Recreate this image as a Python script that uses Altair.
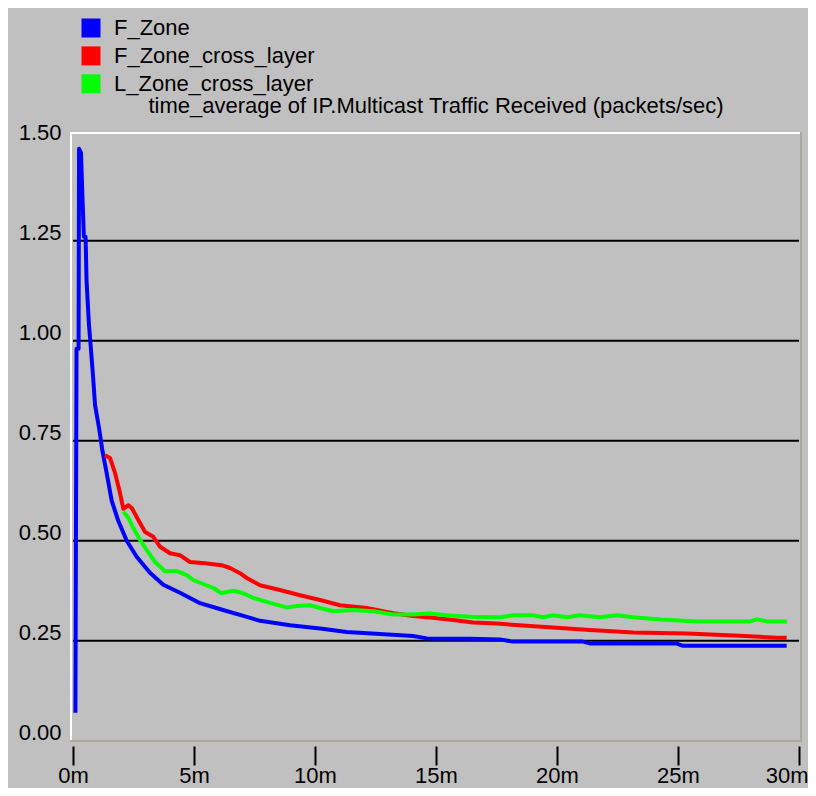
import altair as alt
import pandas as pd

FONT = "Liberation Sans, Arial, sans-serif"
FS = 22

series_names = ["F_Zone", "F_Zone_cross_layer", "L_Zone_cross_layer"]
series_colors = ["#0000ff", "#ff0000", "#00ff00"]
title_text = "time_average of IP.Multicast Traffic Received (packets/sec)"

# time in minutes, value in packets/sec
f_zone_t = [0.10, 0.145, 0.23, 0.25, 0.33, 0.39, 0.45, 0.52, 0.56, 0.66, 0.74, 0.83, 0.91,
            1.09, 1.21, 1.39, 1.60, 1.87, 2.22, 2.63, 3.18, 3.73, 4.42, 5.25, 6.20, 7.18,
            7.73, 8.97, 10.21, 11.31, 12.69, 14.05, 14.62, 16.40, 17.64, 18.18, 21.07,
            21.36, 24.92, 25.21, 29.49]
f_zone_v = [0.07, 0.98, 0.98, 1.48, 1.47, 1.36, 1.26, 1.26, 1.15, 1.04, 0.98, 0.91, 0.84,
            0.777, 0.727, 0.67, 0.60, 0.55, 0.50, 0.46, 0.42, 0.39, 0.37, 0.344, 0.327, 0.31,
            0.30, 0.289, 0.281, 0.272, 0.267, 0.262, 0.256, 0.255, 0.2535, 0.248, 0.248,
            0.2435, 0.2435, 0.2375, 0.2375]

f_cross_t = [1.32, 1.53, 1.74, 1.94, 2.08, 2.29, 2.43, 2.70, 2.98, 3.32, 3.60, 4.01, 4.42,
             4.83, 5.45, 6.14, 6.49, 6.90, 7.18, 7.73, 8.55, 9.38, 10.21, 11.03, 12.14,
             13.24, 14.05, 14.75, 15.70, 16.53, 17.51, 18.75, 19.99, 21.36, 23.15, 25.36,
             27.56, 29.08, 29.49]
f_cross_v = [0.714, 0.707, 0.669, 0.62, 0.58, 0.589, 0.582, 0.552, 0.522, 0.51, 0.485, 0.469,
             0.464, 0.447, 0.444, 0.439, 0.432, 0.419, 0.407, 0.389, 0.377, 0.364, 0.352,
             0.339, 0.332, 0.319, 0.312, 0.308, 0.302, 0.296, 0.293, 0.2875, 0.2825, 0.277,
             0.271, 0.2685, 0.2625, 0.2575, 0.2575]

l_cross_t = [2.08, 2.29, 2.49, 2.77, 3.05, 3.39, 3.80, 4.29, 4.70, 4.97, 5.38, 5.80, 6.12,
             6.62, 7.04, 7.45, 8.14, 8.83, 9.24, 9.79, 10.21, 10.76, 11.58, 12.41, 13.24,
             14.06, 14.75, 15.44, 16.40, 17.64, 18.18, 19.01, 19.42, 19.83, 20.41, 20.95,
             21.78, 22.48, 23.14, 24.26, 25.79, 27.98, 28.26, 28.68, 29.50]
l_cross_v = [0.5725, 0.557, 0.532, 0.502, 0.477, 0.447, 0.424, 0.424, 0.414, 0.402, 0.392,
             0.382, 0.369, 0.375, 0.369, 0.357, 0.345, 0.3335, 0.337, 0.339, 0.332, 0.324,
             0.327, 0.324, 0.316, 0.316, 0.3185, 0.314, 0.310, 0.309, 0.314, 0.314, 0.309,
             0.314, 0.309, 0.314, 0.309, 0.314, 0.309, 0.3035, 0.2985, 0.2985, 0.3035,
             0.2985, 0.2985]

x_ticks = [0, 5, 10, 15, 20, 25, 30]
y_ticks = [0.0, 0.25, 0.5, 0.75, 1.0, 1.25, 1.5]
grid_values = [0.25, 0.5, 0.75, 1.0, 1.25]

frames = []
for name, ts, vs in [(series_names[0], f_zone_t, f_zone_v),
                     (series_names[1], f_cross_t, f_cross_v),
                     (series_names[2], l_cross_t, l_cross_v)]:
    frames.append(pd.DataFrame({"t": ts, "v": vs, "series": name}))
df = pd.concat(frames, ignore_index=True)

W, H = 732, 610
xs = alt.Scale(domain=[-0.124, 30.124], nice=False, zero=False)
ys = alt.Scale(domain=[-0.003, 1.522], nice=False, zero=False)

last_tick_test = "datum.value == %d" % x_ticks[-1]
x_axis = alt.Axis(values=x_ticks, labelExpr="datum.value + 'm'", title=None, grid=False,
                  domain=False, ticks=True, tickColor="black", tickWidth=2, tickSize=19,
                  offset=4, labelPadding=0, labelFontSize=FS, labelFont=FONT,
                  labelColor="black", labelFlush=False, labelOverlap=False,
                  labelAlign={"condition": {"test": last_tick_test, "value": "right"},
                              "value": "center"},
                  labelOffset={"condition": {"test": last_tick_test, "value": 9},
                               "value": 0})
y_axis = alt.Axis(values=y_ticks, format=".2f", title=None, grid=False, domain=False,
                  ticks=False, tickSize=0, labelPadding=9, labelOffset=-8,
                  labelFontSize=FS, labelFont=FONT, labelColor="black", labelOverlap=False)

grid_df = pd.DataFrame({"gy": grid_values})
grid = alt.Chart(grid_df).mark_rule(color="black", strokeWidth=2).encode(
    x=alt.datum(0, scale=xs, axis=x_axis), x2=alt.datum(30),
    y=alt.Y("gy:Q", scale=ys, axis=y_axis)
)

lines = alt.Chart(df).mark_line(strokeWidth=4, strokeJoin="round").encode(
    x=alt.X("t:Q", scale=xs, axis=x_axis),
    y=alt.Y("v:Q", scale=ys, axis=y_axis),
    color=alt.Color("series:N",
                    scale=alt.Scale(domain=series_names, range=series_colors),
                    legend=None),
)

# legend drawn as layers: filled square key + label per series
legend_layers = []
for i, (name, col) in enumerate(zip(series_names, series_colors)):
    row_y = -104 + i * 27.9
    ldf = pd.DataFrame({"label": [name]})
    legend_layers.append(
        alt.Chart(ldf).mark_square(filled=True, size=361, color=col, opacity=1).encode(
            x=alt.value(21), y=alt.value(row_y))
    )
    legend_layers.append(
        alt.Chart(ldf).mark_text(align="left", baseline="middle", fontSize=FS, font=FONT,
                                 color="black").encode(
            x=alt.value(44), y=alt.value(row_y), text="label:N")
    )

title = alt.Chart(pd.DataFrame({"txt": [title_text]})).mark_text(
    align="center", baseline="middle", fontSize=FS, font=FONT, color="black"
).encode(x=alt.value(W / 2), y=alt.value(-26), text="txt:N")

dummy = pd.DataFrame({"a": [0]})
frame_left = alt.Chart(dummy).mark_rule(color="#ffffff", strokeWidth=2).encode(
    x=alt.value(1), y=alt.value(0), y2=alt.value(H))
frame_top = alt.Chart(dummy).mark_rule(color="#ffffff", strokeWidth=2).encode(
    x=alt.value(0), x2=alt.value(W), y=alt.value(1))
frame_right = alt.Chart(dummy).mark_rule(color="#aca899", strokeWidth=2).encode(
    x=alt.value(W - 1), y=alt.value(0), y2=alt.value(H))
frame_bottom = alt.Chart(dummy).mark_rule(color="#aca899", strokeWidth=2).encode(
    x=alt.value(0), x2=alt.value(W), y=alt.value(H - 1))

chart = alt.layer(
    frame_left, frame_top, frame_right, frame_bottom, grid, lines, title, *legend_layers
).properties(
    width=W, height=H,
    autosize=alt.AutoSizeParams(type="none"),
    padding={"left": 62, "top": 124, "right": 6, "bottom": 46},
    background="#c0c0c0",
).configure_view(stroke=None)

chart.save("out.html", embed_options={"renderer": "svg", "actions": False})
